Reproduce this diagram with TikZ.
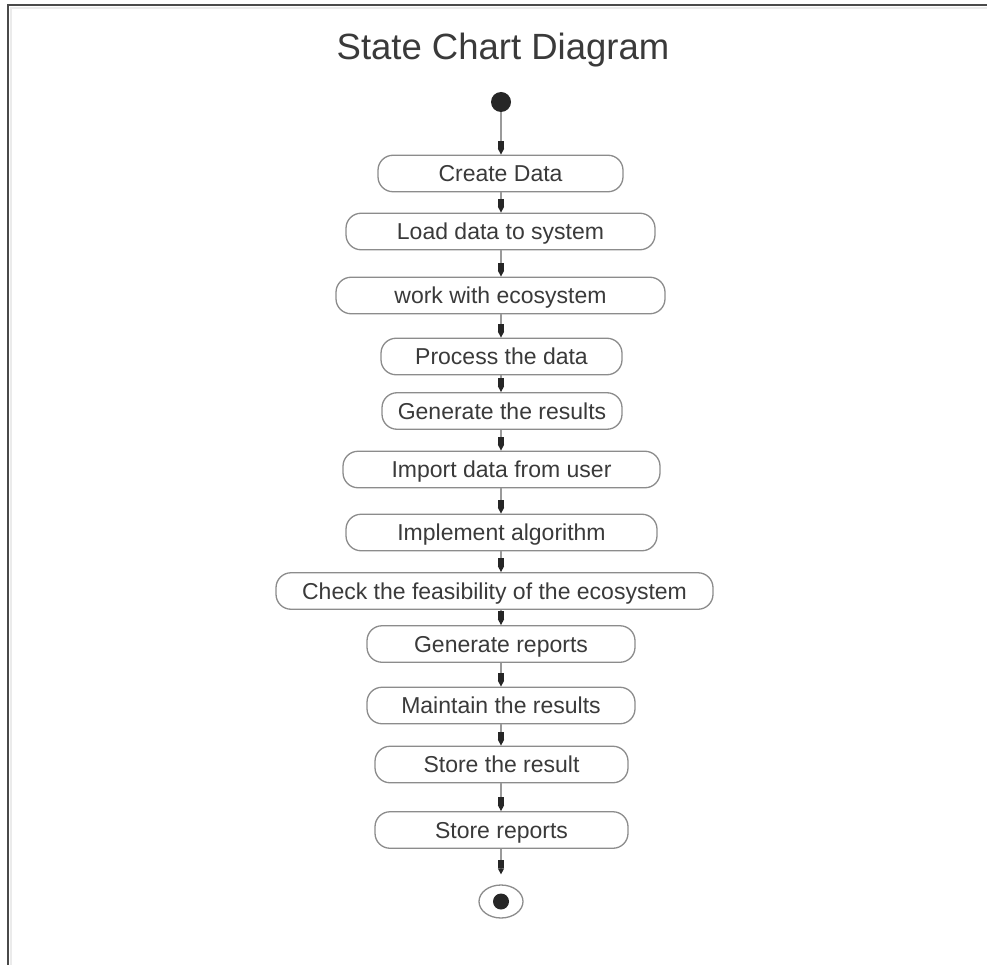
\documentclass[tikz,border=0pt]{standalone}
\usepackage{fontspec}
\setmainfont{Liberation Sans}
\usetikzlibrary{arrows.meta,shapes.geometric}
\definecolor{txt}{HTML}{3A3A3A}
\definecolor{edge}{HTML}{8C8C8C}
\definecolor{linec}{HTML}{9A9A9A}
\definecolor{headc}{HTML}{262626}
\definecolor{frame}{HTML}{4A4A4A}
\begin{document}
\begin{tikzpicture}[x=1pt,y=-1pt,
  state/.style={draw=edge, line width=1.3pt, rounded corners=15pt, fill=white,
    minimum height=36.5pt, inner sep=0pt, text=txt,
    text height=16.5pt, text depth=0pt, font=\fontsize{23}{27}\selectfont},
  flow/.style={draw=linec, line width=1.2pt,
    -{Rectangle[length=8pt,width=6pt,color=headc]Triangle[length=6pt,width=6pt,color=headc]}},
  dot/.style={circle, fill=headc, draw=none, inner sep=0pt}]
\useasboundingbox (0,0) rectangle (987,965);
\fill[white] (0,0) rectangle (987,965);
% frame
\draw[draw=black!8, line width=2pt] (11,965) -- (11,8) -- (987,8);
\draw[draw=frame, line width=2pt] (8,965) -- (8,5) -- (987,5);
% title
\node[text=txt, font=\fontsize{36.5}{44}\selectfont, anchor=base, inner sep=0pt] (title) at (503,60) {State Chart Diagram};
% states
\node[dot, minimum size=20pt] (start) at (501,102) {};
\node[state, minimum width=245pt] (n1)  at (500.5,173.5) {Create Data};
\node[state, minimum width=309pt] (n2)  at (500.5,231.5) {Load data to system};
\node[state, minimum width=329pt] (n3)  at (500.5,295.5) {work with ecosystem};
\node[state, minimum width=241pt] (n4)  at (501.5,356.5) {Process the data};
\node[state, minimum width=240pt] (n5)  at (502,411) {Generate the results};
\node[state, minimum width=317pt] (n6)  at (501.5,469.5) {Import data from user};
\node[state, minimum width=311pt] (n7)  at (501.5,532.5) {Implement algorithm};
\node[state, minimum width=437pt] (n8)  at (494.5,591) {Check the feasibility of the ecosystem};
\node[state, minimum width=268pt] (n9)  at (501,644) {Generate reports};
\node[state, minimum width=268pt] (n10) at (501,705.5) {Maintain the results};
\node[state, minimum width=253pt] (n11) at (501.5,764.5) {Store the result};
\node[state, minimum width=253pt] (n12) at (501.5,830) {Store reports};
\node[ellipse, draw=edge, line width=1.3pt, minimum width=44pt, minimum height=33pt, inner sep=0pt] (endst) at (501,901.5) {};
\node[dot, minimum size=16pt] (enddot) at (endst.center) {};
% transitions
\draw[flow] (start.south) -- (n1.north -| start);
\draw[flow] (n1.south -| start) -- (n2.north -| start);
\draw[flow] (n2.south -| start) -- (n3.north -| start);
\draw[flow] (n3.south -| start) -- (n4.north -| start);
\draw[flow] (n4.south -| start) -- (n5.north -| start);
\draw[flow] (n5.south -| start) -- (n6.north -| start);
\draw[flow] (n6.south -| start) -- (n7.north -| start);
\draw[flow] (n7.south -| start) -- (n8.north -| start);
\draw[flow] (n8.south -| start) -- (n9.north -| start);
\draw[flow] (n9.south -| start) -- (n10.north -| start);
\draw[flow] (n10.south -| start) -- (n11.north -| start);
\draw[flow] (n11.south -| start) -- (n12.north -| start);
\draw[flow, shorten >=10pt] (n12.south -| start) -- (endst.north);
\end{tikzpicture}
\end{document}
